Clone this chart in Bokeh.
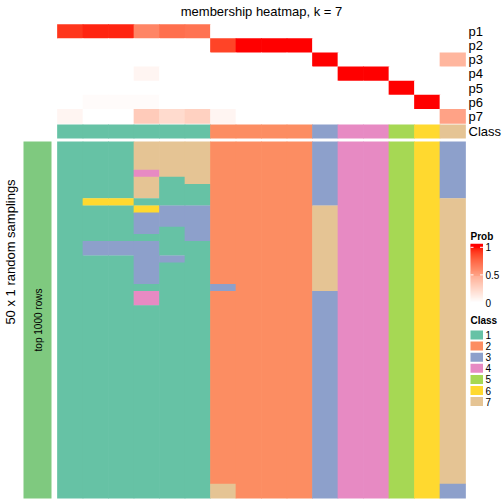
import numpy as np
from bokeh.plotting import figure
from bokeh.models import Range1d, ColumnDataSource
from bokeh.core.properties import value
from bokeh.embed import file_html
from bokeh.resources import INLINE

# ---------------- data ----------------
title_text = "membership heatmap, k = 7"
row_title = "50 x 1 random samplings"
slice_label = "top 1000 rows"

class_ids = ["1", "2", "3", "4", "5", "6", "7"]
class_colors = ["#66C2A5", "#FC8D62", "#8DA0CB", "#E78AC3", "#A6D854", "#FFD92F", "#E5C494"]

# consensus class of each of the 16 samples (columns)
column_class = [1, 1, 1, 1, 1, 1, 2, 2, 2, 2, 3, 4, 4, 5, 6, 7]

prob_names = ["p1", "p2", "p3", "p4", "p5", "p6", "p7"]
p1 = [0.92, 0.96, 0.96, 0.62, 0.72, 0.70, 0, 0, 0, 0, 0, 0, 0, 0, 0, 0]
p2 = [0, 0, 0, 0, 0, 0, 0.88, 1, 1, 1, 0, 0, 0, 0, 0, 0]
p3 = [0, 0, 0, 0, 0, 0, 0, 0, 0, 0, 1, 0, 0, 0, 0, 0.38]
p4 = [0, 0, 0, 0.05, 0, 0, 0, 0, 0, 0, 0, 1, 1, 0, 0, 0]
p5 = [0, 0, 0, 0, 0, 0, 0, 0, 0, 0, 0, 0, 0, 1, 0, 0]
p6 = [0, 0.02, 0.02, 0.02, 0, 0, 0, 0, 0, 0, 0, 0, 0, 0, 1, 0]
p7 = [0.05, 0, 0, 0.27, 0.19, 0.24, 0.05, 0, 0, 0, 0, 0, 0, 0, 0, 0.48]
prob_rows = [p1, p2, p3, p4, p5, p6, p7]

# class assigned to each sample (column) in each of the 50 random samplings (rows)
membership_rows = [
    "1117772222344563",
    "1117772222344563",
    "1117772222344563",
    "1117772222344563",
    "1114772222344563",
    "1117172222344563",
    "1117112222344563",
    "1117112222344563",
    "1661112222344567",
    "1116332222744567",
    "1113332222744567",
    "1113332222744567",
    "1113132222744567",
    "1111132222744567",
    "1333112222744567",
    "1333112222744567",
    "1113312222744567",
    "1113112222744567",
    "1113112222744567",
    "1113112222744567",
    "1111113222744567",
    "1114112222344567",
    "1114112222344567",
    "1111112222344567",
    "1111112222344567",
    "1111112222344567",
    "1111112222344567",
    "1111112222344567",
    "1111112222344567",
    "1111112222344567",
    "1111112222344567",
    "1111112222344567",
    "1111112222344567",
    "1111112222344567",
    "1111112222344567",
    "1111112222344567",
    "1111112222344567",
    "1111112222344567",
    "1111112222344567",
    "1111112222344567",
    "1111112222344567",
    "1111112222344567",
    "1111112222344567",
    "1111112222344567",
    "1111112222344567",
    "1111112222344567",
    "1111112222344567",
    "1111112222344567",
    "1111117222344563",
    "1111117222344563",
]

prob_ticks = [0, 0.5, 1]
prob_tick_labels = ["0", "0.5", "1"]
slice_color = "#7FC97F"

# ---------------- colour ramp (white -> red, LAB) ----------------
_WHITE = np.array([0.95047, 1.0, 1.08883])
_M = np.array([[0.4124564, 0.3575761, 0.1804375],
               [0.2126729, 0.7151522, 0.0721750],
               [0.0193339, 0.1191920, 0.9503041]])


def rgb_to_lab(rgb):
    c = np.array(rgb, dtype=float) / 255.0
    lin = np.where(c <= 0.04045, c / 12.92, ((c + 0.055) / 1.055) ** 2.4)
    xyz = _M @ lin / _WHITE
    d = 6 / 29
    f = np.where(xyz > d ** 3, np.cbrt(xyz), xyz / (3 * d * d) + 4 / 29)
    return np.array([116 * f[1] - 16, 500 * (f[0] - f[1]), 200 * (f[1] - f[2])])


def lab_to_hex(lab):
    L, a, b = lab
    fy = (L + 16) / 116
    fx = fy + a / 500
    fz = fy - b / 200
    d = 6 / 29
    f = np.array([fx, fy, fz])
    xyz = np.where(f > d, f ** 3, 3 * d * d * (f - 4 / 29)) * _WHITE
    lin = np.linalg.solve(_M, xyz)
    lin = np.clip(lin, 0, 1)
    c = np.where(lin <= 0.0031308, 12.92 * lin, 1.055 * lin ** (1 / 2.4) - 0.055)
    c = np.clip(np.round(c * 255), 0, 255).astype(int)
    return "#%02x%02x%02x" % tuple(c)


LAB_LO = rgb_to_lab([255, 255, 255])
LAB_HI = rgb_to_lab([255, 0, 0])


def prob_color(v):
    v = min(max(v, 0.0), 1.0)
    return lab_to_hex(LAB_LO + v * (LAB_HI - LAB_LO))


# ---------------- layout (window pixels -> data units) ----------------
X0, XS = 57.0, 25.5          # left edge of heatmap, px per sample column
Y0, YS = 141.0, 7.14         # top edge of main heatmap, px per sampling row
W = H = 504
OFF = 0                      # page offset of the canvas


def ux(px):
    return (px - X0) / XS


def uy(py):
    return (py - Y0) / YS


p = figure(width=W, height=H, output_backend="svg", toolbar_location=None,
           x_range=Range1d(ux(OFF), ux(OFF + W)), y_range=Range1d(uy(OFF + H), uy(OFF)),
           min_border=0, x_axis_location=None, y_axis_location=None)
p.grid.visible = False
p.outline_line_color = None
p.background_fill_color = "white"
p.border_fill_color = "white"

FONT = value("Liberation Sans")
EPS_X = 0.7 / XS   # slight overlap of adjacent cells to avoid anti-alias seams
EPS_Y = 0.7 / YS

# main heatmap: each column drawn as vertical runs of identical class
n_rows = len(membership_rows)
n_cols = len(column_class)
ql, qr, qt, qb, qc = [], [], [], [], []
for c in range(n_cols):
    col = [row[c] for row in membership_rows]
    start = 0
    for r in range(1, n_rows + 1):
        if r == n_rows or col[r] != col[start]:
            ql.append(c - EPS_X / 2)
            qr.append(c + 1 + EPS_X / 2)
            qt.append(start - (EPS_Y / 2 if start > 0 else 0))
            qb.append(r)
            qc.append(class_colors[int(col[start]) - 1])
            start = r
p.quad(left="l", right="r", top="t", bottom="b", fill_color="c", line_color=None,
       source=ColumnDataSource(dict(l=ql, r=qr, t=qt, b=qb, c=qc)))

# probability annotation rows
ANN_TOP, ANN_H = 24.0, 14.14
ann_h_u = ANN_H / YS
pxs, pys, pcs = [], [], []
for k, vals in enumerate(prob_rows):
    yc = uy(ANN_TOP + ANN_H * (k + 0.5))
    for c, v in enumerate(vals):
        pxs.append(c + 0.5)
        pys.append(yc)
        pcs.append(prob_color(v))
p.rect(x="x", y="y", width=1 + EPS_X, height=ann_h_u + EPS_Y, fill_color="c", line_color=None,
       source=ColumnDataSource(dict(x=pxs, y=pys, c=pcs)))

# class annotation row
class_y = uy(124 + 7)
p.rect(x=[c + 0.5 for c in range(n_cols)], y=[class_y] * n_cols, width=1 + EPS_X, height=14 / YS,
       fill_color=[class_colors[k - 1] for k in column_class], line_color=None)

# annotation names on the right
lab_y = [uy(ANN_TOP + ANN_H * (k + 0.5)) for k in range(len(prob_names))] + [class_y]
p.text(x=[ux(468)] * 8, y=lab_y, text=prob_names + ["Class"], text_font=FONT,
       text_font_size="13px", text_align="left", text_baseline="middle", text_color="black")

# slice bar on the left
p.quad(left=[ux(23)], right=[ux(51)], top=[0], bottom=[n_rows], fill_color=slice_color,
       line_color=None)
p.text(x=[ux(37.5)], y=[n_rows / 2], text=[slice_label], angle=np.pi / 2, text_font=FONT,
       text_font_size="10px", text_align="center", text_baseline="middle", text_color="black")

# row title
p.text(x=[ux(10)], y=[uy(251.5)], text=[row_title], angle=np.pi / 2, text_font=FONT,
       text_font_size="13px", text_align="center", text_baseline="middle", text_color="black")

# title
p.text(x=[n_cols / 2], y=[uy(11)], text=[title_text], text_font=FONT,
       text_font_size="13px", text_align="center", text_baseline="middle", text_color="black")

# ---- Prob legend ----
LX0, LX1 = 470.0, 482.5
p.text(x=[ux(LX0)], y=[uy(235.5)], text=["Prob"], text_font=FONT, text_font_size="10px",
       text_font_style="bold", text_align="left", text_baseline="middle")
BAR_TOP, BAR_BOT = 243.5, 303.0
V1_Y, V0_Y = 246.8, 302.0
nseg = 60
seg_h = (BAR_BOT - BAR_TOP) / nseg
gy, gc = [], []
for i in range(nseg):
    yc = BAR_TOP + seg_h * (i + 0.5)
    v = (V0_Y - yc) / (V0_Y - V1_Y)
    gy.append(uy(yc))
    gc.append(prob_color(v))
p.rect(x=[ux((LX0 + LX1) / 2)] * nseg, y=gy, width=(LX1 - LX0) / XS, height=seg_h / YS * 1.3,
       fill_color=gc, line_color=None)
tick_y = [uy(V0_Y + (V1_Y - V0_Y) * t) for t in prob_ticks]
p.segment(x0=[ux(LX0)] * 3, x1=[ux(LX0 + 3)] * 3, y0=tick_y, y1=tick_y, line_color="white", line_width=1)
p.segment(x0=[ux(LX1 - 3)] * 3, x1=[ux(LX1)] * 3, y0=tick_y, y1=tick_y, line_color="white", line_width=1)
p.text(x=[ux(485)] * 3, y=tick_y, text=prob_tick_labels, text_font=FONT, text_font_size="10px",
       text_align="left", text_baseline="middle")

# ---- Class legend ----
p.text(x=[ux(LX0)], y=[uy(320)], text=["Class"], text_font=FONT, text_font_size="10px",
       text_font_style="bold", text_align="left", text_baseline="middle")
sw_y = [uy(330 + 11.1 * i + 4.5) for i in range(len(class_ids))]
p.rect(x=[ux((LX0 + LX1) / 2)] * len(class_ids), y=sw_y, width=(LX1 - LX0) / XS, height=9 / YS,
       fill_color=class_colors, line_color=None)
p.text(x=[ux(485)] * len(class_ids), y=sw_y, text=class_ids, text_font=FONT, text_font_size="10px",
       text_align="left", text_baseline="middle")

open("out.html", "w").write(file_html(p, INLINE))
